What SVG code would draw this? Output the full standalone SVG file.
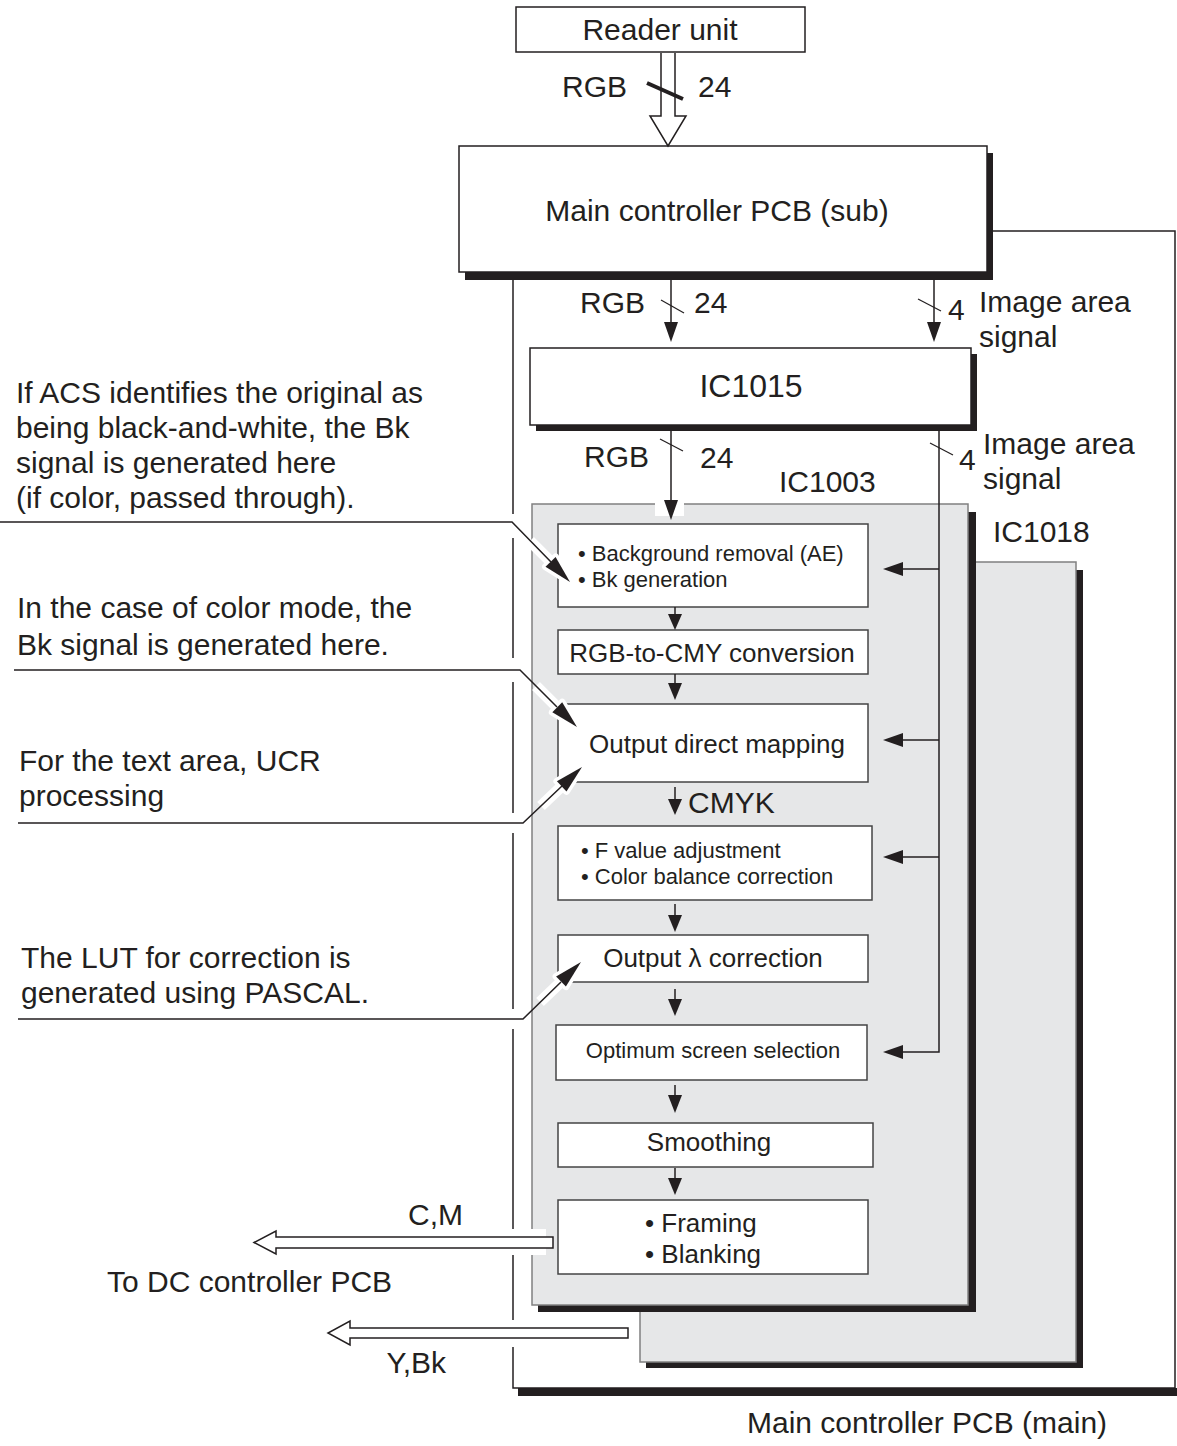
<svg xmlns="http://www.w3.org/2000/svg" width="1177" height="1446" viewBox="0 0 1177 1446">
<style>
text{font-family:"Liberation Sans",Arial,sans-serif;fill:#231f20}
.lbl{font-size:30px}
.mid{text-anchor:middle}
.s26{font-size:26px}
.s22{font-size:22px}
.box{fill:#fff;stroke:#231f20;stroke-width:1.5}
.ibox{fill:#fff;stroke:#444;stroke-width:1.5}
.chip{fill:#e6e7e8;stroke:#808080;stroke-width:1.5}
.shadow{fill:#231f20}
.ln{stroke:#231f20;stroke-width:1.5;fill:none}
.thin{stroke:#231f20;stroke-width:1.2;fill:none}
.halo{stroke:#fff;stroke-width:11;fill:none}
.hollow{fill:#fff;stroke:#231f20;stroke-width:1.5}
.head{fill:#231f20}
.hhalo{fill:#fff;stroke:#fff;stroke-width:7;stroke-linejoin:round}
</style>
<rect width="1177" height="1446" fill="#fff"/>

<!-- Main controller PCB (main) frame -->
<g id="main-frame">
<rect class="shadow" x="518" y="1388" width="659" height="8"/>
<path class="ln" d="M988,231 H1175 V1388 H513 V272"/>
<text class="lbl" x="747" y="1433">Main controller PCB (main)</text>
</g>

<!-- Reader unit -->
<g id="reader-unit">
<rect class="box" x="516" y="7" width="289" height="45"/>
<text class="lbl mid" x="660" y="40">Reader unit</text>
</g>

<!-- Main controller PCB (sub) -->
<g id="main-sub">
<rect class="shadow" x="465" y="153" width="528" height="127"/>
<rect class="box" x="459" y="146" width="528" height="126"/>
<text class="lbl mid" x="717" y="221">Main controller PCB (sub)</text>
</g>

<!-- IC1015 -->
<g id="ic1015">
<rect class="shadow" x="536" y="354" width="441" height="77"/>
<rect class="box" x="530" y="348" width="441" height="77"/>
<text class="mid" style="font-size:32px" x="751" y="397">IC1015</text>
</g>

<!-- IC1018 -->
<g id="ic1018">
<rect class="shadow" x="646" y="570" width="437" height="798"/>
<rect class="chip" x="640" y="562" width="436" height="800"/>
<text class="lbl" x="993" y="542">IC1018</text>
</g>

<!-- IC1003 -->
<g id="ic1003">
<rect class="shadow" x="538" y="512" width="438" height="800"/>
<rect class="chip" x="532" y="504" width="436" height="801"/>
<rect x="655" y="502" width="29" height="14" fill="#fff"/>
<text class="lbl" x="779" y="492">IC1003</text>
</g>

<g id="bg-removal">
<rect class="ibox" x="558" y="524" width="310" height="83"/>
<text class="s22" x="578" y="561">• Background removal (AE)</text>
<text class="s22" x="578" y="587">• Bk generation</text>
</g>
<g id="rgb-cmy">
<rect class="ibox" x="558" y="630" width="310" height="44"/>
<text class="s26 mid" x="712" y="662">RGB-to-CMY conversion</text>
</g>
<g id="direct-mapping">
<rect class="ibox" x="558" y="704" width="310" height="78"/>
<text class="s26 mid" x="717" y="753">Output direct mapping</text>
</g>
<g id="f-value">
<rect class="ibox" x="558" y="826" width="314" height="74"/>
<text class="s22" x="581" y="858">• F value adjustment</text>
<text class="s22" x="581" y="884">• Color balance correction</text>
</g>
<g id="lambda">
<rect class="ibox" x="558" y="935" width="310" height="47"/>
<text class="s26 mid" x="713" y="967">Output λ correction</text>
</g>
<g id="screen">
<rect class="ibox" x="556" y="1025" width="311" height="55"/>
<text class="s22 mid" x="713" y="1058">Optimum screen selection</text>
</g>
<g id="smoothing">
<rect class="ibox" x="558" y="1123" width="315" height="44"/>
<text class="s26 mid" x="709" y="1151">Smoothing</text>
</g>
<g id="framing">
<rect class="ibox" x="558" y="1200" width="310" height="74"/>
<text class="s26" x="645" y="1232">• Framing</text>
<text class="s26" x="645" y="1263">• Blanking</text>
</g>

<!-- annotations -->
<g id="notes">
<text class="lbl" x="16" y="403">If ACS identifies the original as</text>
<text class="lbl" x="16" y="438">being black-and-white, the Bk</text>
<text class="lbl" x="16" y="473">signal is generated here</text>
<text class="lbl" x="16" y="508">(if color, passed through).</text>
<text class="lbl" x="17" y="618">In the case of color mode, the</text>
<text class="lbl" x="17" y="655">Bk signal is generated here.</text>
<text class="lbl" x="19" y="771">For the text area, UCR</text>
<text class="lbl" x="19" y="806">processing</text>
<text class="lbl" x="21" y="968">The LUT for correction is</text>
<text class="lbl" x="21" y="1003">generated using PASCAL.</text>
<text class="lbl" x="107" y="1292">To DC controller PCB</text>
</g>

<!-- connectors -->
<g id="connectors">
<!-- gaps in frame line -->
<rect x="507" y="514" width="12" height="24" fill="#fff"/>
<rect x="507" y="658" width="12" height="24" fill="#fff"/>
<rect x="507" y="813" width="12" height="20" fill="#fff"/>
<rect x="507" y="1009" width="12" height="20" fill="#fff"/>
<rect x="507" y="1229" width="12" height="26" fill="#fff"/>
<rect x="507" y="1320" width="12" height="27" fill="#fff"/>
<rect x="528" y="1229" width="18" height="26" fill="#fff"/>

<!-- Reader -> main sub hollow arrow -->
<path class="hollow" d="M661,53 V116 H650 L668,146 L686,116 H675 V53"/>
<line x1="647" y1="83" x2="683" y2="99" stroke="#231f20" stroke-width="4"/>
<text class="lbl" x="562" y="97">RGB</text>
<text class="lbl" x="698" y="97">24</text>

<!-- main sub -> IC1015 -->
<line class="ln" x1="671" y1="280" x2="671" y2="328"/>
<path class="head" d="M664,322 L678,322 L671,342 z"/>
<line class="thin" x1="661" y1="300" x2="684" y2="313"/>
<text class="lbl" x="580" y="313">RGB</text>
<text class="lbl" x="694" y="313">24</text>

<line class="ln" x1="934" y1="280" x2="934" y2="328"/>
<path class="head" d="M927,322 L941,322 L934,342 z"/>
<line class="thin" x1="918" y1="299" x2="941" y2="311"/>
<text class="lbl" x="948" y="320">4</text>
<text class="lbl" x="979" y="312">Image area</text>
<text class="lbl" x="979" y="347">signal</text>

<!-- IC1015 -> IC1003 -->
<line class="ln" x1="671" y1="431" x2="671" y2="505"/>
<path class="head" d="M664,500 L678,500 L671,520 z"/>
<line class="thin" x1="660" y1="439" x2="683" y2="451"/>
<text class="lbl" x="584" y="467">RGB</text>
<text class="lbl" x="700" y="468">24</text>

<!-- image area signal bus -->
<path class="ln" d="M939,431 V1052 H898"/>
<line class="thin" x1="930" y1="443" x2="953" y2="455"/>
<text class="lbl" x="959" y="470">4</text>
<text class="lbl" x="983" y="454">Image area</text>
<text class="lbl" x="983" y="489">signal</text>
<line class="ln" x1="939" y1="569" x2="898" y2="569"/>
<line class="ln" x1="939" y1="740" x2="898" y2="740"/>
<line class="ln" x1="939" y1="857" x2="898" y2="857"/>
<path class="head" d="M903,562 L903,576 L883,569 z"/>
<path class="head" d="M903,733 L903,747 L883,740 z"/>
<path class="head" d="M903,850 L903,864 L883,857 z"/>
<path class="head" d="M903,1045 L903,1059 L883,1052 z"/>

<!-- vertical flow arrows -->
<line class="ln" x1="675" y1="607" x2="675" y2="618"/>
<path class="head" d="M668,614 L682,614 L675,630 z"/>
<line class="ln" x1="675" y1="674" x2="675" y2="686"/>
<path class="head" d="M668,683 L682,683 L675,700 z"/>
<line class="ln" x1="675" y1="787" x2="675" y2="802"/>
<path class="head" d="M668,799 L682,799 L675,815 z"/>
<text class="lbl" x="688" y="813">CMYK</text>
<line class="ln" x1="675" y1="904" x2="675" y2="918"/>
<path class="head" d="M668,915 L682,915 L675,932 z"/>
<line class="ln" x1="675" y1="989" x2="675" y2="1002"/>
<path class="head" d="M668,999 L682,999 L675,1016 z"/>
<line class="ln" x1="675" y1="1085" x2="675" y2="1098"/>
<path class="head" d="M668,1095 L682,1095 L675,1113 z"/>
<line class="ln" x1="675" y1="1168" x2="675" y2="1180"/>
<path class="head" d="M668,1178 L682,1178 L675,1195 z"/>

<!-- output hollow arrows -->
<path class="hollow" d="M553,1237 H276 V1231 L254,1242.5 L276,1254 V1248 H553 z"/>
<text class="lbl" x="463" y="1225" text-anchor="end">C,M</text>
<path class="hollow" d="M628,1328 H350 V1321 L328,1333 L350,1345 V1338 H628 z"/>
<text class="lbl" x="446" y="1373" text-anchor="end">Y,Bk</text>

<!-- annotation leaders -->
<path class="halo" d="M530,541 L551,562"/>
<path class="hhalo" d="M570,582 L545.5,566.7 L555.6,557 z"/>
<path class="ln" d="M0,522 H512 L551,562"/>
<path d="M570,582 L545.5,566.7 L555.6,557 z" class="head"/>

<path class="halo" d="M536,686 L557,707"/>
<path class="hhalo" d="M577,727 L552.3,712.2 L562.2,702.3 z"/>
<path class="ln" d="M14,670 H520 L557,707"/>
<path d="M577,727 L552.3,712.2 L562.2,702.3 z" class="head"/>

<path class="halo" d="M541,806 L562,786"/>
<path class="hhalo" d="M582,767 L566.5,791.4 L556.9,781.2 z"/>
<path class="ln" d="M18,823 H523 L562,786"/>
<path d="M582,767 L566.5,791.4 L556.9,781.2 z" class="head"/>

<path class="halo" d="M540,1002 L561,982"/>
<path class="hhalo" d="M581,962 L565.9,986.6 L556.1,976.6 z"/>
<path class="ln" d="M18,1019 H523 L561,982"/>
<path d="M581,962 L565.9,986.6 L556.1,976.6 z" class="head"/>
</g>
</svg>
